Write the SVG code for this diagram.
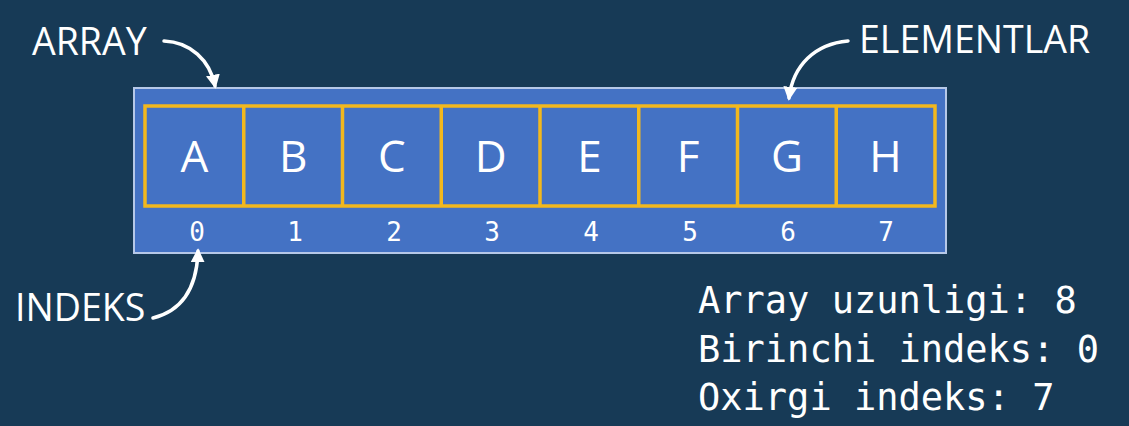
<svg xmlns="http://www.w3.org/2000/svg" width="1129" height="426" viewBox="0 0 1129 426">
<style>
.lbl{font-family:"Open Sans","Noto Sans",sans-serif;font-size:37.5px;fill:#fff}
.cell{fill:none;stroke:#f2b81e;stroke-width:3.5}
.let{font-family:"Open Sans","Noto Sans",sans-serif;font-size:44px;fill:#fff;text-anchor:middle}
.idx{font-family:"DejaVu Sans Mono","Liberation Mono",monospace;font-size:26px;fill:#fff;text-anchor:middle}
.info{font-family:"DejaVu Sans Mono","Liberation Mono",monospace;font-size:37px;fill:#fff}
.arr{fill:none;stroke:#fff;stroke-width:3.5;stroke-linecap:round}
</style>
<defs>
<marker id="ah" viewBox="0 0 10 10" refX="8" refY="5" markerWidth="4" markerHeight="4" orient="auto" markerUnits="strokeWidth">
<path d="M0,0 L10,5 L0,10 z" fill="#fff"/>
</marker>
</defs>
<rect width="1129" height="426" fill="#173a56"/>
<g id="array">
<rect x="134" y="88" width="812" height="165" fill="#4472c4" stroke="#b6c8e8" stroke-width="2"/>
</g>
<g id="cells">
<rect class="cell" x="145" y="106" width="790" height="100"/>
<line class="cell" x1="243.75" y1="106" x2="243.75" y2="206"/>
<line class="cell" x1="342.5" y1="106" x2="342.5" y2="206"/>
<line class="cell" x1="441.25" y1="106" x2="441.25" y2="206"/>
<line class="cell" x1="540" y1="106" x2="540" y2="206"/>
<line class="cell" x1="638.75" y1="106" x2="638.75" y2="206"/>
<line class="cell" x1="737.5" y1="106" x2="737.5" y2="206"/>
<line class="cell" x1="836.25" y1="106" x2="836.25" y2="206"/>
<text class="let" x="194.4" y="172">A</text>
<text class="let" x="293.1" y="172">B</text>
<text class="let" x="391.9" y="172">C</text>
<text class="let" x="490.6" y="172">D</text>
<text class="let" x="589.4" y="172">E</text>
<text class="let" x="688.1" y="172">F</text>
<text class="let" x="786.9" y="172">G</text>
<text class="let" x="885.6" y="172">H</text>
<text class="idx" x="197" y="241">0</text>
<text class="idx" x="295" y="241">1</text>
<text class="idx" x="394" y="241">2</text>
<text class="idx" x="492" y="241">3</text>
<text class="idx" x="591" y="241">4</text>
<text class="idx" x="690" y="241">5</text>
<text class="idx" x="788" y="241">6</text>
<text class="idx" x="886" y="241">7</text>
</g>
<g id="label-array"><text class="lbl" x="32" y="55">ARRAY</text></g>
<g id="label-elementlar"><text class="lbl" x="859" y="53">ELEMENTLAR</text></g>
<g id="label-indeks"><text class="lbl" x="15" y="321">INDEKS</text></g>
<g id="info">
<text class="info" x="698" y="313">Array uzunligi: 8</text>
<text class="info" x="698" y="362">Birinchi indeks: 0</text>
<text class="info" x="698" y="410">Oxirgi indeks: 7</text>
</g>
<g id="connectors">
<path class="arr" d="M164,41 C190,42 210,60 215,86" marker-end="url(#ah)"/>
<path class="arr" d="M848,41 C815,44 793,65 789,98" marker-end="url(#ah)"/>
<path class="arr" d="M153,318 C185,310 197,285 198,251" marker-end="url(#ah)"/>
</g>
</svg>
